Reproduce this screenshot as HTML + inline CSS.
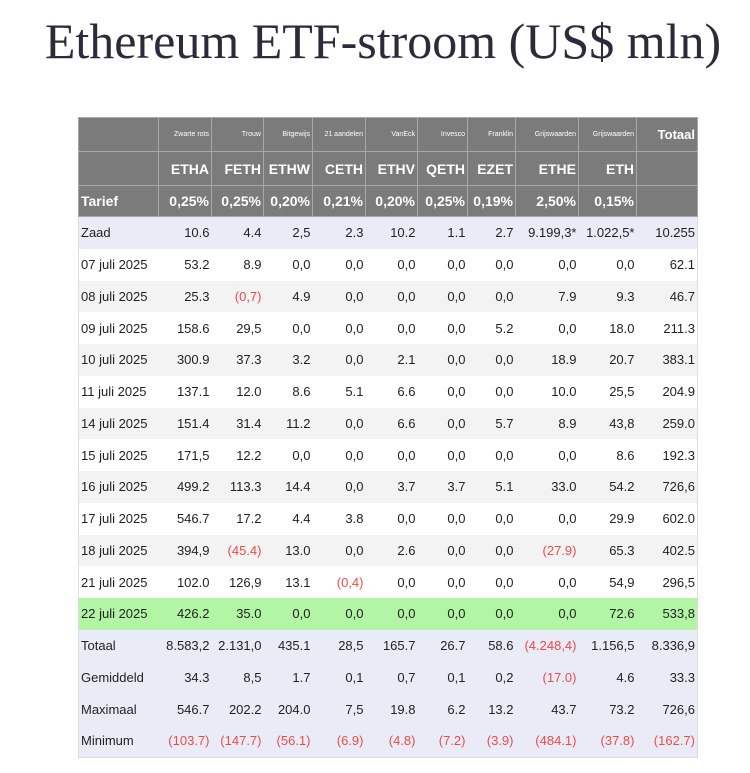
<!DOCTYPE html>
<html><head><meta charset="utf-8"><style>
body{margin:0;width:750px;height:773px;background:#fff;position:relative;overflow:hidden;font-family:"Liberation Sans",sans-serif}
h1{position:absolute;left:0;top:12px;width:766px;margin:0;text-align:center;font:50px "Liberation Serif",serif;color:#2b2b3b;letter-spacing:0}
table{position:absolute;left:78px;top:117px;border-collapse:collapse;table-layout:fixed;width:620px;border:1px solid #ddd}
td{padding:0 2px;font-size:13px;color:#222;text-align:right;white-space:nowrap;overflow:hidden}
td:first-child{text-align:left;padding-left:2px}
tr.h td{background:#7b7b7b;color:#fff;border:1px solid #a8a8a8;font-weight:bold}
tr.h1 td{height:33px;font-size:7px;font-weight:normal}
tr.h2 td{height:33px;font-size:14px}
tr.h3 td{height:30px;font-size:14px}
tr.d td{height:31.75px}
.neg{color:#f04a4a}
</style></head><body>
<h1>Ethereum ETF-stroom (US$ mln)</h1>
<table>
<colgroup><col style="width:80px"><col style="width:53px"><col style="width:52px"><col style="width:49px"><col style="width:53px"><col style="width:52px"><col style="width:50px"><col style="width:48px"><col style="width:63px"><col style="width:58px"><col style="width:61px"></colgroup>
<tbody id="tb"></tbody></table>
<script>
const issuers=["","Zwarte rots","Trouw","Bitgewijs","21 aandelen","VanEck","Invesco","Franklin","Grijswaarden","Grijswaarden","Totaal"];
const tickers=["","ETHA","FETH","ETHW","CETH","ETHV","QETH","EZET","ETHE","ETH",""];
const fees=["Tarief","0,25%","0,25%","0,20%","0,21%","0,20%","0,25%","0,19%","2,50%","0,15%",""];
const rows=[
["Zaad","10.6","4.4","2,5","2.3","10.2","1.1","2.7","9.199,3*","1.022,5*","10.255"],
["07 juli 2025","53.2","8.9","0,0","0,0","0,0","0,0","0,0","0,0","0,0","62.1"],
["08 juli 2025","25.3","(0,7)","4.9","0,0","0,0","0,0","0,0","7.9","9.3","46.7"],
["09 juli 2025","158.6","29,5","0,0","0,0","0,0","0,0","5.2","0,0","18.0","211.3"],
["10 juli 2025","300.9","37.3","3.2","0,0","2.1","0,0","0,0","18.9","20.7","383.1"],
["11 juli 2025","137.1","12.0","8.6","5.1","6.6","0,0","0,0","10.0","25,5","204.9"],
["14 juli 2025","151.4","31.4","11.2","0,0","6.6","0,0","5.7","8.9","43,8","259.0"],
["15 juli 2025","171,5","12.2","0,0","0,0","0,0","0,0","0,0","0,0","8.6","192.3"],
["16 juli 2025","499.2","113.3","14.4","0,0","3.7","3.7","5.1","33.0","54.2","726,6"],
["17 juli 2025","546.7","17.2","4.4","3.8","0,0","0,0","0,0","0,0","29.9","602.0"],
["18 juli 2025","394,9","(45.4)","13.0","0,0","2.6","0,0","0,0","(27.9)","65.3","402.5"],
["21 juli 2025","102.0","126,9","13.1","(0,4)","0,0","0,0","0,0","0,0","54,9","296,5"],
["22 juli 2025","426.2","35.0","0,0","0,0","0,0","0,0","0,0","0,0","72.6","533,8"],
["Totaal","8.583,2","2.131,0","435.1","28,5","165.7","26.7","58.6","(4.248,4)","1.156,5","8.336,9"],
["Gemiddeld","34.3","8,5","1.7","0,1","0,7","0,1","0,2","(17.0)","4.6","33.3"],
["Maximaal","546.7","202.2","204.0","7,5","19.8","6.2","13.2","43.7","73.2","726,6"],
["Minimum","(103.7)","(147.7)","(56.1)","(6.9)","(4.8)","(7.2)","(3.9)","(484.1)","(37.8)","(162.7)"]];
const tb=document.getElementById('tb');
function hrow(vals,cls,name){
  const tr=document.createElement('tr');tr.className='h '+cls;
  
  
  vals.forEach((v,i)=>{const td=document.createElement('td');td.textContent=v;
    if(cls==='h1'&&i===10){td.style.fontSize='13px';td.style.fontWeight='bold';}
    
    
    tr.appendChild(td);});
  tb.appendChild(tr);
}
hrow(issuers,'h1','issuer-header-row');
hrow(tickers,'h2','ticker-header-row');
hrow(fees,'h3','fee-header-row');
rows.forEach((r,ri)=>{
  const tr=document.createElement('tr');tr.className='d';
  let bg=ri%2===0?'#f3f3f3':'#ffffff';
  if(ri===0||ri>=13)bg='#e9ecf7';
  if(ri===12)bg='#b2f5a4';
  
  
  r.forEach(v=>{const td=document.createElement('td');td.textContent=v;td.style.background=bg;
    if(v.startsWith('('))td.className='neg';
    
    
    tr.appendChild(td);});
  tb.appendChild(tr);
});
</script>
</body></html>
